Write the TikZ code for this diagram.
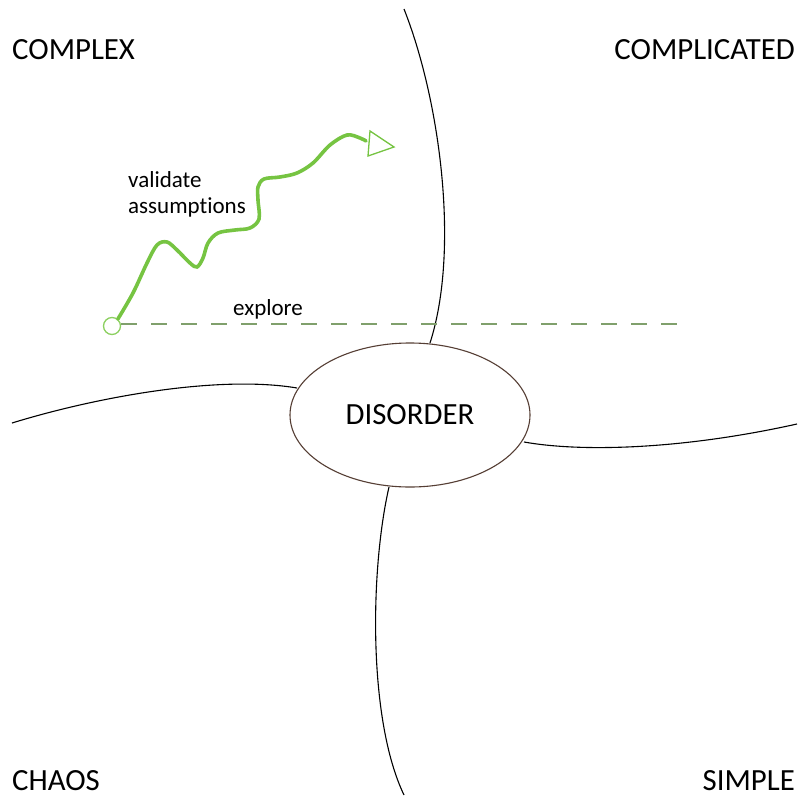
\documentclass[tikz,border=0pt]{standalone}
\usepackage{fontspec}
\setmainfont{Carlito}[Ligatures=NoCommon]
\usetikzlibrary{shapes.geometric}
\definecolor{wavegreen}{RGB}{118,196,66}
\definecolor{ringgreen}{RGB}{140,208,96}
\definecolor{dashgreen}{RGB}{128,160,108}
\definecolor{ellbrown}{RGB}{85,62,52}
\tikzset{
  biglabel/.style={inner sep=0pt, font=\fontsize{30.8}{34}\selectfont},
  smalllabel/.style={inner sep=0pt, align=left, font=\fontsize{23}{26}\selectfont},
  border/.style={draw=black, line width=1.1pt},
  wave/.style={draw=wavegreen, line width=3.6pt, line cap=round},
  exploreline/.style={draw=dashgreen, line width=1.5pt, dash pattern=on 16pt off 14pt}
}
\begin{document}
\begin{tikzpicture}[x=1pt,y=-1pt]
\useasboundingbox (0,0) rectangle (798,798);
\fill[white] (0,0) rectangle (798,798);

% central ellipse
\node[ellipse, draw=ellbrown, line width=1.1pt, minimum width=240pt, minimum height=144pt, inner sep=0pt,
      font=\fontsize{30.8}{34}\selectfont] (dis) at (410,415) {DISORDER};

% outer ends of the border curves
\coordinate (topend) at (404,9);
\coordinate (leftend) at (12,423);
\coordinate (rightend) at (797,424);
\coordinate (botend) at (404,795);

\draw[border] (topend) .. controls (440,100) and (460,250) .. (430,343);
\draw[border] (leftend) .. controls (100,396) and (220,375) .. (297,388);
\draw[border] (524,442) .. controls (580,452) and (680,450) .. (rightend);
\draw[border] (389,487) .. controls (370,570) and (368,720) .. (botend);

% quadrant labels
\node[biglabel, anchor=base west] (complex) at (12,59) {COMPLEX};
\node[biglabel, anchor=base east] (complicated) at (795,59) {COMPLICATED};
\node[biglabel, anchor=base west] (chaos) at (12,790) {CHAOS};
\node[biglabel, anchor=base east] (simple) at (795,790) {SIMPLE};

% start ring
\node[circle, draw=ringgreen, line width=1.3pt, minimum size=17pt, inner sep=0pt] (st) at (112,326) {};
\coordinate (dashend) at (685,324);
\draw[exploreline] (st.east |- dashend) -- (dashend);

% wavy path
\draw[wave] plot[smooth, tension=0.55] coordinates {
  (st.50) (133,293) (147,263) (157,245) (167,242) (177,250) (190,263) (197,267)
  (203,258) (208,243) (218,233) (235,230) (250,228) (259,219) (258,200)
  (258,187) (264,179) (280,177) (297,173) (313,163) (330,145) (347,135) (360,138) (366,141)};
\coordinate (tip) at (394,147);
\draw[draw=wavegreen, line width=1.3pt, line join=miter, fill=white] (370,131) -- (tip) -- (368,156) -- cycle;

% texts
\node[smalllabel, anchor=base west] (validate) at (128,213) {validate\\assumptions};
\node[smalllabel, anchor=base west] (explore) at (233,315) {explore};
\end{tikzpicture}
\end{document}
